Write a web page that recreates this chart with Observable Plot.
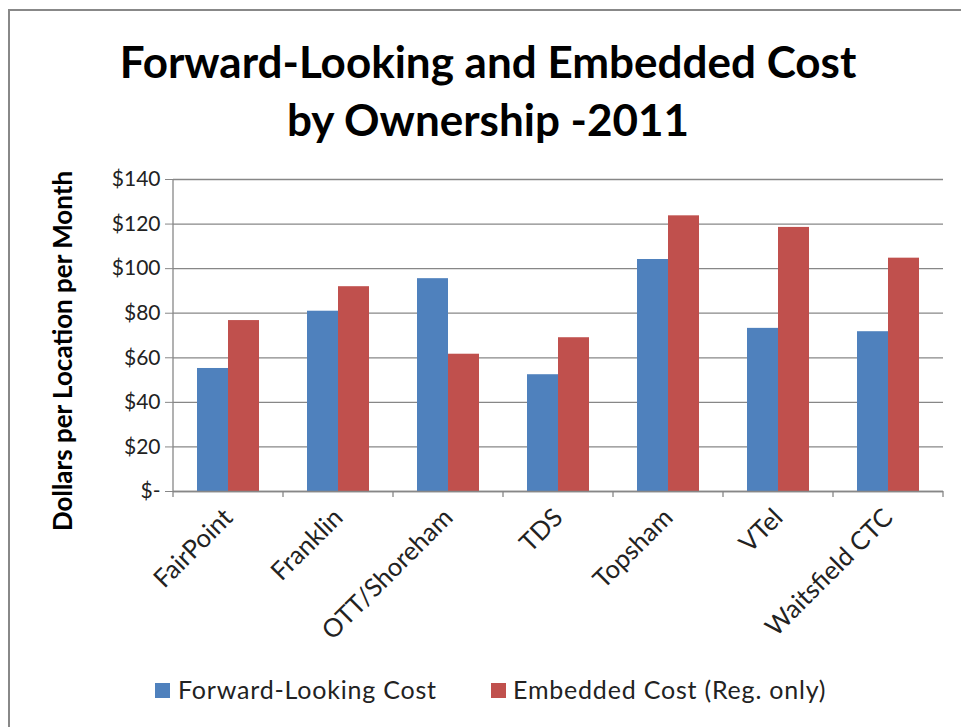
<!DOCTYPE html>
<html>
<head>
<meta charset="utf-8">
<script src="https://cdn.jsdelivr.net/npm/d3@7"></script>
<script src="https://cdn.jsdelivr.net/npm/@observablehq/plot@0.6"></script>
<style>
  html, body { margin: 0; padding: 0; background: #fff; }
  #wrap { position: relative; width: 961px; height: 727px; overflow: hidden; background: #fff; font-family: Lato, "Open Sans", sans-serif; }
  #border { position: absolute; left: 8px; top: 9px; width: 1000px; height: 800px; border-top: 2px solid #888; border-left: 2px solid #888; box-sizing: border-box; }
  #title { position: absolute; left: 0; width: 976px; top: 32px; text-align: center; font-weight: 700; font-size: 44px; line-height: 58px; color: #000; }
  #chart { position: absolute; left: 0; top: 160px; }
  #legend { position: absolute; top: 674px; left: 0; width: 961px; font-size: 25px; letter-spacing: 0.8px; color: #222; }
  .sw { position: absolute; top: 9px; width: 15px; height: 15px; }
  .lt { position: absolute; top: 0; white-space: nowrap; }
</style>
</head>
<body>
<div id="wrap">
  <div id="border"></div>
  <div id="title">Forward-Looking and Embedded Cost<br>by Ownership -2011</div>
  <div id="chart"></div>
  <div id="legend"></div>
</div>
<script>
const categories = ["FairPoint", "Franklin", "OTT/Shoreham", "TDS", "Topsham", "VTel", "Waitsfield CTC"];
const seriesNames = ["Forward-Looking Cost", "Embedded Cost (Reg. only)"];
const forwardLooking = [55.2, 80.9, 95.5, 52.4, 104.1, 73.2, 71.7];
const embedded = [76.7, 91.9, 61.6, 69.0, 123.7, 118.5, 104.7];
const yTicks = [0, 20, 40, 60, 80, 100, 120, 140];
const colors = ["#4F81BD", "#C0504D"];

const data = [];
categories.forEach((c, i) => {
  data.push({cat: c, series: seriesNames[0], value: forwardLooking[i]});
  data.push({cat: c, series: seriesNames[1], value: embedded[i]});
});

const gray = "#878787";
const plot = Plot.plot({
  width: 961,
  height: 490,
  marginLeft: 172,
  marginRight: 18,
  marginTop: 19,
  marginBottom: 159,
  style: {fontFamily: "Lato, 'Open Sans', sans-serif", background: "transparent", overflow: "visible"},
  fx: {domain: categories, padding: 0, label: null},
  x: {domain: seriesNames, padding: 0, paddingOuter: 0.774, axis: null},
  y: {domain: [0, 140], label: null},
  color: {domain: seriesNames, range: colors},
  marks: [
    Plot.gridY(yTicks, {stroke: gray, strokeOpacity: 1, strokeWidth: 1.3}),
    Plot.barY(data, {fx: "cat", x: "series", y: "value", fill: "series"}),
    Plot.ruleY([0], {stroke: gray, strokeWidth: 1.3}),
    Plot.axisY(yTicks, {tickFormat: d => d === 0 ? "$-" : "$" + d, tickSize: 8, tickPadding: 5, fontSize: 21, stroke: gray, color: "#222", label: null}),
    Plot.axisFx({anchor: "bottom", tickRotate: -45, tickSize: 0, tickPadding: 22, fontSize: 25.5, color: "#222", label: null})
  ]
});

// axis line and category boundary ticks, from the plot's own scales
const fx = plot.scale("fx");
const y = plot.scale("y");
const svg = d3.select(plot);
const g = svg.append("g").attr("stroke", gray).attr("stroke-width", 1.3);
const y0 = y.apply(0), y1 = y.apply(140);
const first = fx.apply(categories[0]);
g.append("line").attr("x1", first).attr("x2", first).attr("y1", y1).attr("y2", y0 + 6);
categories.forEach(c => {
  const xe = fx.apply(c) + fx.bandwidth;
  g.append("line").attr("x1", xe).attr("x2", xe).attr("y1", y0).attr("y2", y0 + 6);
});

document.getElementById("chart").appendChild(plot);

// y-axis title
svg.append("text")
  .attr("transform", `translate(62, ${(y0 + y1) / 2 + 16}) rotate(-90)`)
  .attr("text-anchor", "middle")
  .attr("dominant-baseline", "central")
  .attr("font-weight", 700)
  .attr("font-size", 26)
  .attr("fill", "#000")
  .attr("font-family", "Lato, 'Open Sans', sans-serif")
  .text("Dollars per Location per Month");

// legend
const legend = document.getElementById("legend");
const legendPos = [{sw: 155, tx: 178}, {sw: 491, tx: 513}];
seriesNames.forEach((s, i) => {
  const sw = document.createElement("div");
  sw.className = "sw"; sw.style.left = legendPos[i].sw + "px"; sw.style.background = colors[i];
  const t = document.createElement("div");
  t.className = "lt"; t.style.left = legendPos[i].tx + "px"; t.textContent = s;
  legend.appendChild(sw); legend.appendChild(t);
});
</script>
</body>
</html>
